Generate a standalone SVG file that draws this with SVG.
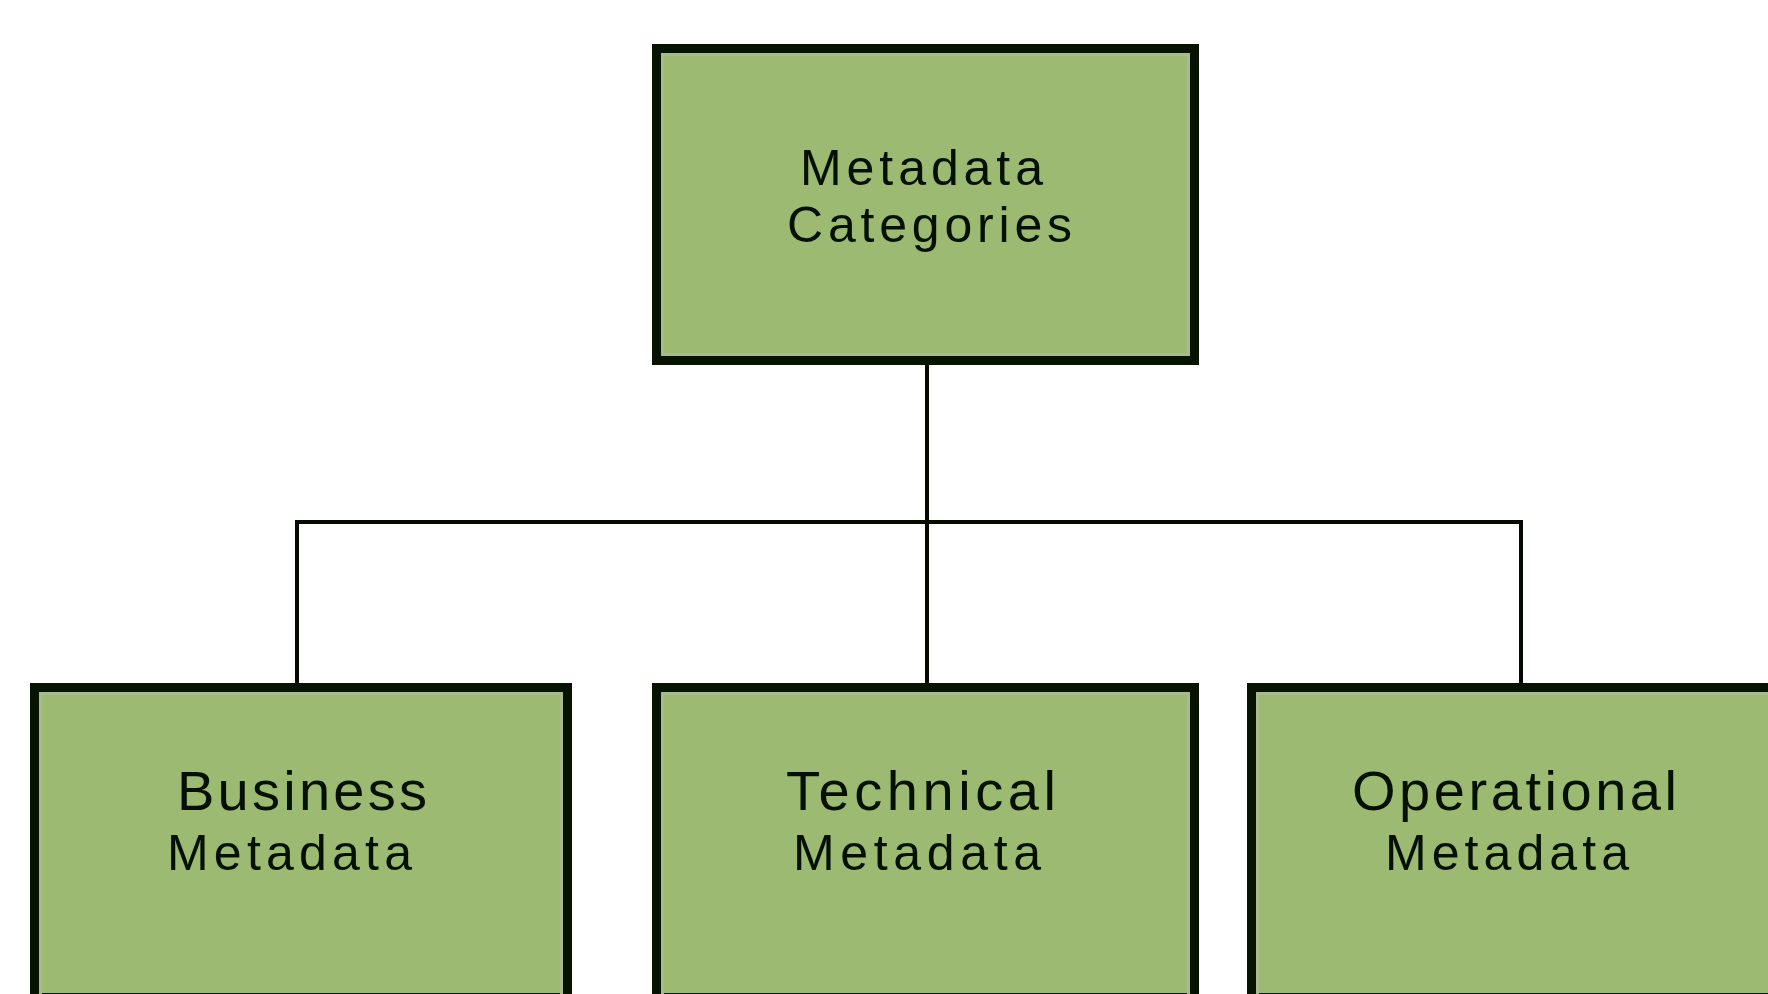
<svg xmlns="http://www.w3.org/2000/svg" width="1768" height="994" viewBox="0 0 1768 994">
  <style>
    .box { fill: #9cba71; stroke: #061300; stroke-width: 9; }
    .hl { fill: none; stroke: #a9bb8c; stroke-width: 3; }
    .conn { fill: none; stroke: #050a00; stroke-width: 4; }
    .t1 { font-family: "Liberation Sans", Arial, sans-serif; font-size: 56px; fill: #061000; }
    .t2 { font-family: "Liberation Sans", Arial, sans-serif; font-size: 50px; fill: #061000; }
  </style>
  <rect width="1768" height="994" fill="#ffffff"/>
  <g id="connectors">
    <line class="conn" x1="927" y1="365" x2="927" y2="683"/>
    <line class="conn" x1="297" y1="522" x2="1521" y2="522"/>
    <line class="conn" x1="297" y1="520" x2="297" y2="683"/>
    <line class="conn" x1="1521" y1="520" x2="1521" y2="683"/>
  </g>
  <g id="metadata-categories">
    <rect class="box" x="656.5" y="48.5" width="538" height="312"/>
    <rect class="hl" x="662.5" y="54.5" width="526" height="300"/>
    <text class="t2" x="800" y="185" textLength="243" lengthAdjust="spacing">Metadata</text>
    <text class="t2" x="787" y="242" textLength="285" lengthAdjust="spacing">Categories</text>
  </g>
  <g id="business-metadata">
    <rect class="box" x="34.5" y="687.5" width="533" height="310"/>
    <rect class="hl" x="40.5" y="693.5" width="521" height="310"/>
    <text class="t1" x="177" y="810" textLength="250" lengthAdjust="spacing">Business</text>
    <text class="t2" x="167" y="870" textLength="245" lengthAdjust="spacing">Metadata</text>
  </g>
  <g id="technical-metadata">
    <rect class="box" x="656.5" y="687.5" width="538" height="310"/>
    <rect class="hl" x="662.5" y="693.5" width="526" height="310"/>
    <text class="t1" x="786" y="810" textLength="270" lengthAdjust="spacing">Technical</text>
    <text class="t2" x="793" y="870" textLength="248" lengthAdjust="spacing">Metadata</text>
  </g>
  <g id="operational-metadata">
    <rect class="box" x="1251.5" y="687.5" width="540" height="310"/>
    <rect class="hl" x="1257.5" y="693.5" width="528" height="310"/>
    <text class="t1" x="1352" y="810" textLength="325" lengthAdjust="spacing">Operational</text>
    <text class="t2" x="1385" y="870" textLength="244" lengthAdjust="spacing">Metadata</text>
  </g>
</svg>
